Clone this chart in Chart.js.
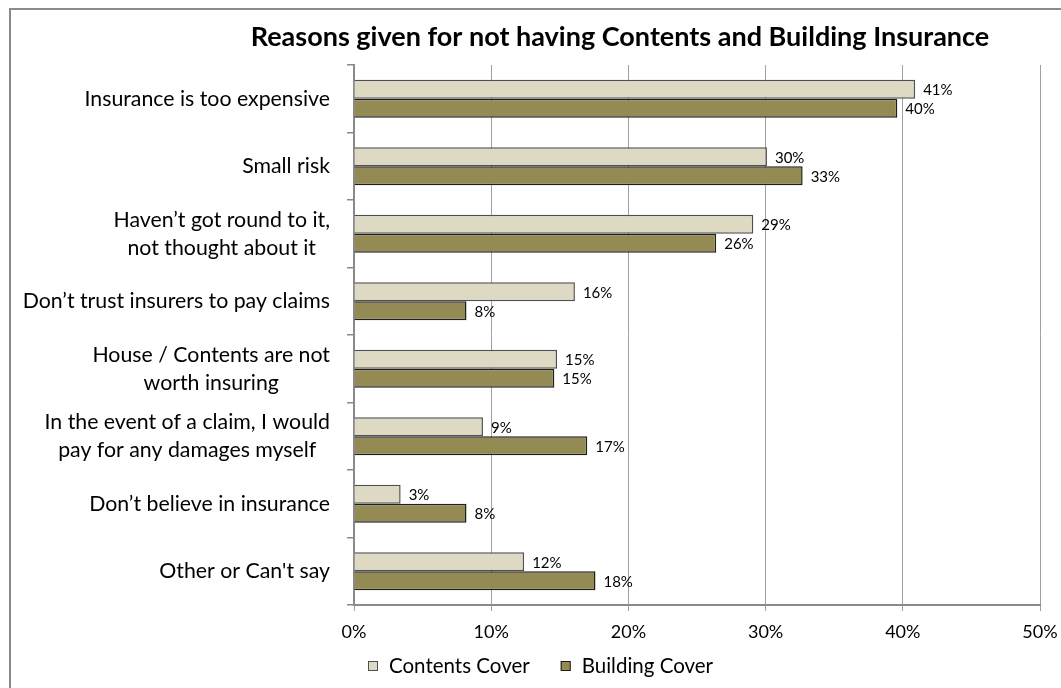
<!DOCTYPE html>
<html>
<head>
<meta charset="utf-8">
<title>Reasons given for not having Contents and Building Insurance</title>
<script src="https://cdn.jsdelivr.net/npm/chart.js@4/dist/chart.umd.min.js"></script>
<style>
  html, body { margin: 0; padding: 0; background: #ffffff; overflow: hidden; }
  #wrap { position: relative; width: 1061px; height: 688px; }
  #frame { position: absolute; left: 9px; top: 8px; width: 1080px; height: 700px;
           border: 2px solid #8a8a8a; box-sizing: border-box; pointer-events: none; }
  canvas { position: absolute; left: 0; top: 0; }
</style>
</head>
<body>
<div id="wrap">
  <canvas id="chart" width="1061" height="688"></canvas>
  <div id="frame"></div>
</div>
<script>
// Survey reasons (top to bottom) and share of respondents, in percent
const categories = [
  "Insurance is too expensive",
  "Small risk",
  ["Haven\u2019t got round to it,", "not thought about it"],
  "Don\u2019t trust insurers to pay claims",
  ["House / Contents are not", "worth insuring"],
  ["In the event of a claim, I would", "pay for any damages myself"],
  "Don\u2019t believe in insurance",
  "Other or Can't say"
];
const contentsCover = [40.9, 30.1, 29.1, 16.1, 14.8, 9.4, 3.4, 12.4];
const buildingCover = [39.6, 32.7, 26.4, 8.2, 14.6, 17.0, 8.2, 17.6];
const seriesNames = ["Contents Cover", "Building Cover"];
const xTickValues = [0, 10, 20, 30, 40, 50];
const chartTitle = "Reasons given for not having Contents and Building Insurance";

const FONT = "Lato, 'Open Sans', sans-serif";
Chart.defaults.font.family = FONT;
Chart.defaults.color = "#000000";

// Centred multi-line category labels, right-aligned as a block beside the axis
const categoryLabels = {
  id: "categoryLabels",
  afterDraw(chart) {
    const ys = chart.scales.y;
    const ctx = chart.ctx;
    const right = ys.right - 24;
    const lineH = 28;
    ctx.save();
    ctx.font = "21.3px " + FONT;
    ctx.fillStyle = "#000000";
    ctx.textAlign = "center";
    ctx.textBaseline = "middle";
    categories.forEach((lab, i) => {
      const lines = Array.isArray(lab) ? lab : [lab];
      const w = Math.max(...lines.map(l => ctx.measureText(l).width));
      const cx = right - w / 2;
      const cy = ys.getPixelForValue(i);
      lines.forEach((l, k) => {
        ctx.fillText(l, cx, cy + (k - (lines.length - 1) / 2) * lineH);
      });
    });
    ctx.restore();
  }
};

// Percentage labels at the end of each bar
const barValueLabels = {
  id: "barValueLabels",
  afterDatasetsDraw(chart) {
    const ctx = chart.ctx;
    ctx.save();
    ctx.font = "15px " + FONT;
    ctx.fillStyle = "#000000";
    ctx.textAlign = "left";
    ctx.textBaseline = "middle";
    chart.data.datasets.forEach((ds, di) => {
      const meta = chart.getDatasetMeta(di);
      meta.data.forEach((bar, i) => {
        ctx.fillText(Math.round(ds.data[i]) + "%", bar.x + 8, bar.y + 1);
      });
    });
    ctx.restore();
  }
};

// Chart heading
const heading = {
  id: "heading",
  afterDraw(chart) {
    const ctx = chart.ctx;
    ctx.save();
    ctx.font = "bold 27px " + FONT;
    ctx.fillStyle = "#000000";
    ctx.textAlign = "center";
    ctx.textBaseline = "middle";
    ctx.fillText(chartTitle, 620, 37);
    ctx.restore();
  }
};

// Series key below the axis, built from the datasets' own colours
const seriesKey = {
  id: "seriesKey",
  afterDraw(chart) {
    const ctx = chart.ctx;
    const y = 666, box = 10, gapText = 11, gapItem = 31;
    let x = 368;
    ctx.save();
    ctx.font = "20.5px " + FONT;
    ctx.textAlign = "left";
    ctx.textBaseline = "middle";
    chart.data.datasets.forEach(ds => {
      ctx.fillStyle = ds.backgroundColor;
      ctx.fillRect(x, y - box / 2, box, box);
      ctx.lineWidth = 1;
      ctx.strokeStyle = ds.borderColor;
      ctx.strokeRect(x + 0.5, y - box / 2 + 0.5, box - 1, box - 1);
      ctx.fillStyle = "#000000";
      ctx.fillText(ds.label, x + box + gapText, y);
      x += box + gapText + ctx.measureText(ds.label).width + gapItem;
    });
    ctx.restore();
  }
};

new Chart(document.getElementById("chart"), {
  type: "bar",
  data: {
    labels: categories,
    datasets: [
      {
        label: seriesNames[0],
        data: contentsCover,
        backgroundColor: "#ddd9c3",
        borderColor: "#505050",
        borderWidth: 1.5
      },
      {
        label: seriesNames[1],
        data: buildingCover,
        backgroundColor: "#948a54",
        borderColor: "#1e1e1e",
        borderWidth: 1.5
      }
    ]
  },
  options: {
    indexAxis: "y",
    responsive: false,
    animation: false,
    devicePixelRatio: 1,
    layout: { padding: { left: 337, right: 21, top: 65, bottom: 38 } },
    datasets: { bar: { categoryPercentage: 0.56, barPercentage: 1.0 } },
    scales: {
      x: {
        min: 0,
        max: 50,
        afterBuildTicks(scale) { scale.ticks = xTickValues.map(v => ({ value: v })); },
        afterFit(scale) {
          scale.height = 45;
          scale.paddingLeft = 0;
          scale.paddingRight = 0;
        },
        grid: { color: "#a0a0a0", lineWidth: 1, tickLength: 6, drawTicks: true },
        border: { color: "#8a8a8a", width: 2 },
        ticks: {
          padding: 10,
          font: { size: 18 },
          color: "#000000",
          callback: v => v + "%"
        }
      },
      y: {
        afterFit(scale) { scale.width = 17; },
        grid: { drawOnChartArea: false, drawTicks: true, tickLength: 7, color: "#8a8a8a", lineWidth: 1.5 },
        border: { color: "#8a8a8a", width: 2 },
        ticks: { display: false }
      }
    },
    plugins: {
      title: { display: false },
      tooltip: { enabled: false },
      legend: { display: false }
    }
  },
  plugins: [categoryLabels, barValueLabels, heading, seriesKey]
});
</script>
</body>
</html>
